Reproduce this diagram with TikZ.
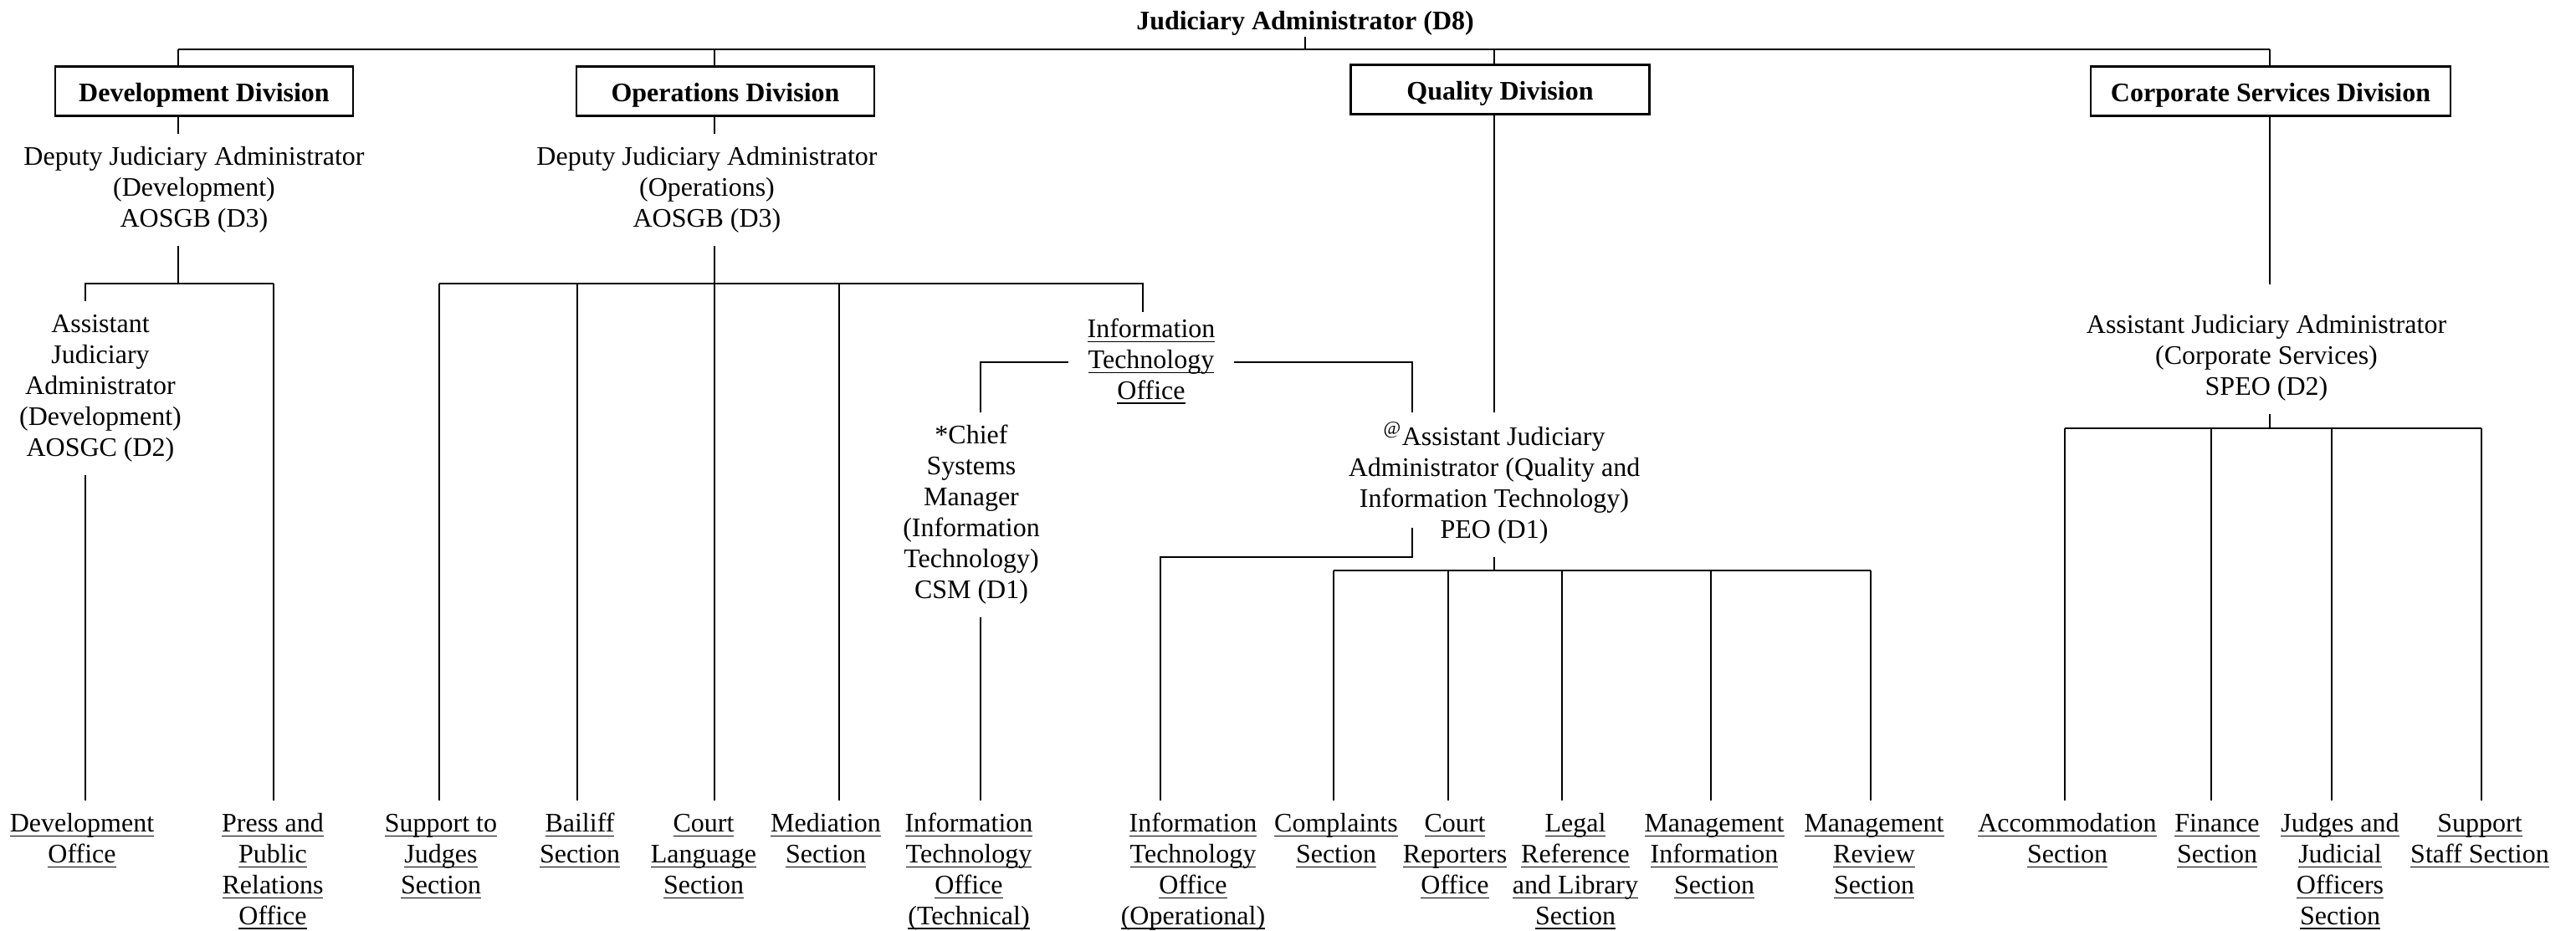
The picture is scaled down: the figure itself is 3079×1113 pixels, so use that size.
\documentclass[tikz,border=0pt]{standalone}
\usepackage{fontspec}
\setmainfont{Liberation Serif}
\newcommand{\uln}[1]{\strut\underline{\smash{#1}}}
\tikzset{
    chart text/.style={
        font=\fontsize{9.1}{10.5}\selectfont,
        align=center
    },
    head text/.style={
        chart text,
        font=\fontsize{9.1}{10.5}\selectfont\bfseries,
        anchor=base,
        inner sep=0pt
    },
    division box/.style={
        chart text,
        font=\fontsize{9.1}{10.5}\selectfont\bfseries,
        draw,
        line width=0.7pt,
        minimum height=0.59cm,
        text height=7.1pt,
        text depth=0pt,
        inner sep=0pt
    },
    post text/.style={
        chart text,
        anchor=north,
        inner sep=3pt
    },
    section label/.style={
        post text
    }
}
\begin{document}
\begin{tikzpicture}[x=0.01cm, y=-0.01cm, line width=0.6pt]
\useasboundingbox (0,0) rectangle (3079,1113);
% heights of the bars
\coordinate (bar) at (0,59);
\coordinate (devjn) at (0,339);
\coordinate (opsjn) at (0,339);
\coordinate (qualjn) at (0,682);
\coordinate (corpjn) at (0,512);
\coordinate (peo) at (1688,631);

% head and divisions
\node[head text] (jad) at (1560,36) {Judiciary Administrator (D8)};
\node[division box, minimum width=3.56cm] (devdiv) at (244,109) {Development Division};
\node[division box, minimum width=3.56cm] (opsdiv) at (867,109) {Operations Division};
\node[division box, minimum width=3.57cm] (qualdiv) at (1793,107) {Quality Division};
\node[division box, minimum width=4.30cm] (corpdiv) at (2714,109) {Corporate Services Division};

% posts
\node[post text] (devdep) at (232,160) {\strut Deputy Judiciary Administrator\\(Development)\\AOSGB (D3)\strut};
\node[post text] (opsdep) at (845,160) {\strut Deputy Judiciary Administrator\\(Operations)\\AOSGB (D3)\strut};
\node[post text] (devasst) at (120,360) {\strut Assistant\\Judiciary\\Administrator\\(Development)\\AOSGC (D2)\strut};
\node[post text, inner xsep=6pt, inner ysep=1pt] (ito) at (1376,373) {\uln{Information}\\\uln{Technology}\\\uln{Office}};
\node[post text] (chief) at (1161,493) {\strut*Chief\\Systems\\Manager\\(Information\\Technology)\\CSM (D1)\strut};
\node[post text] (qasst) at (1786,493) {\strut\textsuperscript{@}Assistant Judiciary\\Administrator (Quality and\\Information Technology)\\PEO (D1)\strut};
\node[post text] (corpasst) at (2709,361) {\strut Assistant Judiciary Administrator\\(Corporate Services)\\SPEO (D2)\strut};

% sections
\node[section label] (devoff) at (98,957) {\uln{Development}\\\uln{Office}};
\node[section label] (press) at (326,957) {\uln{Press and}\\\uln{Public}\\\uln{Relations}\\\uln{Office}};
\node[section label] (support) at (527,957) {\uln{Support to}\\\uln{Judges}\\\uln{Section}};
\node[section label] (bailiff) at (693,957) {\uln{Bailiff}\\\uln{Section}};
\node[section label] (courtlang) at (841,957) {\uln{Court}\\\uln{Language}\\\uln{Section}};
\node[section label] (mediation) at (987,957) {\uln{Mediation}\\\uln{Section}};
\node[section label] (ittech) at (1158,957) {\uln{Information}\\\uln{Technology}\\\uln{Office}\\\uln{(Technical)}};
\node[section label] (itop) at (1426,957) {\uln{Information}\\\uln{Technology}\\\uln{Office}\\\uln{(Operational)}};
\node[section label] (complaints) at (1597,957) {\uln{Complaints}\\\uln{Section}};
\node[section label] (reporters) at (1739,957) {\uln{Court}\\\uln{Reporters}\\\uln{Office}};
\node[section label] (legal) at (1883,957) {\uln{Legal}\\\uln{Reference}\\\uln{and Library}\\\uln{Section}};
\node[section label] (mgmtinfo) at (2049,957) {\uln{Management}\\\uln{Information}\\\uln{Section}};
\node[section label] (mgmtrev) at (2240,957) {\uln{Management}\\\uln{Review}\\\uln{Section}};
\node[section label] (accom) at (2471,957) {\uln{Accommodation}\\\uln{Section}};
\node[section label] (finance) at (2650,957) {\uln{Finance}\\\uln{Section}};
\node[section label] (judges) at (2797,957) {\uln{Judges and}\\\uln{Judicial}\\\uln{Officers}\\\uln{Section}};
\node[section label] (staff) at (2964,957) {\uln{Support}\\\uln{Staff Section}};

% top bar
\draw (jad.south) -- (jad.south |- bar);
\draw (213,0 |- bar) -- (2713,0 |- bar);
\foreach \d/\x in {devdiv/213, opsdiv/854, qualdiv/1786, corpdiv/2713}
    \draw (\x,0 |- bar) -- (\d.north -| \x,0);

% development
\draw (devdiv.south -| 213,0) -- (devdep.north -| 213,0);
\draw (devdep.south -| 213,0) -- (213,0 |- devjn);
\draw (devasst.north -| 102,0) -- (102,0 |- devjn) -- (327,0 |- devjn);
\draw (devasst.south -| 102,0) -- (devoff.north -| 102,0);

% operations
\draw (opsdiv.south -| 854,0) -- (opsdep.north -| 854,0);
\draw (opsdep.south -| 854,0) -- (courtlang.north -| 854,0);
\draw (525,0 |- opsjn) -| (ito.north -| 1366,0);
\draw (ito.west) -| (chief.north -| 1172,0);
\draw (ito.east) -| (qasst.north -| 1688,0);
\draw (chief.south -| 1172,0) -- (ittech.north -| 1172,0);

% quality
\draw (qualdiv.south -| qasst.north) -- (qasst.north);
\draw (peo) -- (peo |- qasst.south) -| (itop.north -| 1387,0);
\draw (qasst.south) -- (qasst.south |- qualjn);
\draw (1594,0 |- qualjn) -- (2236,0 |- qualjn);

% corporate services
\draw[shorten >=6pt] (corpdiv.south -| 2713,0) -- (corpasst.north -| 2713,0);
\draw (corpasst.south -| 2713,0) -- (2713,0 |- corpjn);
\draw (2468,0 |- corpjn) -- (2966,0 |- corpjn);

% drops to the sections
\foreach \n/\x/\j in {press/327/devjn, support/525/opsjn, bailiff/690/opsjn,
    mediation/1003/opsjn, complaints/1594/qualjn, reporters/1731/qualjn,
    legal/1867/qualjn, mgmtinfo/2045/qualjn, mgmtrev/2236/qualjn,
    accom/2468/corpjn, finance/2643/corpjn, judges/2787/corpjn, staff/2966/corpjn}
    \draw (\x,0 |- \j) -- (\n.north -| \x,0);
\end{tikzpicture}
\end{document}
